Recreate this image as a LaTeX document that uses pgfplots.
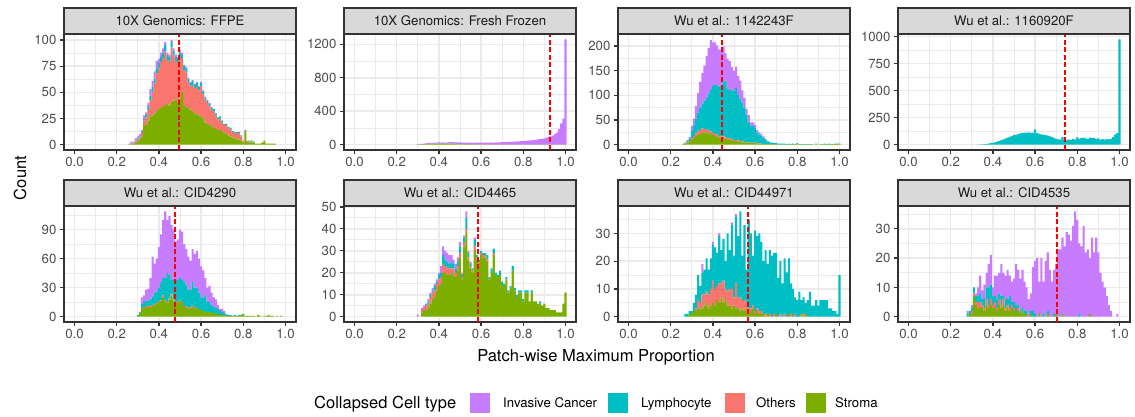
\documentclass[border=0pt]{standalone}
\usepackage{fontspec}
\setmainfont{TeX Gyre Heros}
\usepackage{pgfplots}
\usepackage{pgfplotstable}
\pgfplotsset{compat=1.18}

\definecolor{cancer}{HTML}{C77CFF}
\definecolor{lymph}{HTML}{00BFC4}
\definecolor{others}{HTML}{F8766D}
\definecolor{stroma}{HTML}{7CAE00}
\definecolor{grey10}{HTML}{1A1A1A}
\definecolor{grey20}{HTML}{333333}
\definecolor{grey30}{HTML}{4D4D4D}
\definecolor{grey85}{HTML}{D9D9D9}
\definecolor{grey92}{HTML}{EBEBEB}

\newcommand\tickfont{\fontsize{13.2}{15.8}\selectfont}
\newcommand\titlefont{\fontsize{16.5}{19.8}\selectfont}

% Counts per 0.01-wide bin: x = bin centre, s = Stroma, o = Others,
% l = Lymphocyte, c = Invasive Cancer
\pgfplotstableread{
x s o l c
0.26 0 0 0 1
0.27 1 0 0 2
0.28 1 1 0 1
0.29 2 1 1 2
0.30 3 2 1 2
0.31 5 2 1 2
0.32 8 3 1 2
0.33 18 5 2 3
0.34 19 7 3 2
0.35 23 10 4 3
0.36 27 15 5 6
0.37 28 22 5 6
0.38 30 28 5 7
0.39 32 36 5 7
0.40 34 39 5 4
0.41 35 44 5 4
0.42 36 47 5 4
0.43 38 51 6 3
0.44 39 42 5 2
0.45 37 42 5 2
0.46 41 52 5 2
0.47 42 43 5 2
0.48 43 37 4 2
0.49 40 38 4 2
0.50 44 40 4 2
0.51 51 31 4 2
0.52 37 34 4 1
0.53 36 33 4 1
0.54 35 25 3 1
0.55 33 23 3 1
0.56 32 25 4 1
0.57 30 24 3 1
0.58 29 26 4 1
0.59 28 24 3 1
0.60 27 29 3 1
0.61 25 23 3 1
0.62 21 22 2 1
0.63 20 20 2 1
0.64 19 18 2 1
0.65 18 15 2 1
0.66 16 16 2 0
0.67 15 13 2 0
0.68 14 10 2 0
0.69 14 11 2 0
0.70 13 8 2 0
0.71 11 8 1 0
0.72 10 9 1 0
0.73 9 7 1 0
0.74 8 7 1 0
0.75 7 5 1 0
0.76 6 5 1 0
0.77 5 6 1 0
0.78 5 6 1 0
0.79 4 4 1 0
0.80 2 2 0 0
0.81 12 1 1 0
0.82 3 1 0 0
0.83 2 1 1 0
0.84 2 1 1 0
0.85 2 0 1 0
0.86 1 0 0 0
0.87 1 0 0 0
0.88 1 0 0 0
0.89 2 0 0 0
0.90 4 0 0 0
0.91 1 0 0 0
0.92 1 0 0 0
0.93 1 0 0 0
0.94 1 0 0 0
0.95 1 0 0 0
}\tabFFPE

\pgfplotstableread{
x s o l c
0.30 2 2 0 4
0.31 2 2 1 5
0.32 3 2 1 5
0.33 3 3 1 6
0.34 4 4 1 7
0.35 5 5 1 8
0.36 6 6 2 9
0.37 6 5 2 10
0.38 7 6 2 10
0.39 6 6 2 11
0.40 7 6 2 12
0.41 6 5 2 12
0.42 7 6 2 13
0.43 6 5 2 13
0.44 6 6 2 14
0.45 7 6 2 15
0.46 8 7 2 15
0.47 6 5 2 15
0.48 5 5 2 16
0.49 5 5 1 16
0.50 5 4 1 17
0.51 4 4 1 17
0.52 4 4 1 17
0.53 4 3 1 18
0.54 3 3 1 18
0.55 3 3 1 18
0.56 2 2 1 18
0.57 2 2 1 19
0.58 2 2 1 20
0.59 2 2 0 20
0.60 2 2 0 21
0.61 2 1 0 22
0.62 2 1 0 22
0.63 1 1 0 23
0.64 1 1 0 24
0.65 1 1 0 25
0.66 1 1 0 24
0.67 1 1 0 26
0.68 1 1 0 27
0.69 1 1 0 27
0.70 1 1 0 29
0.71 1 1 0 30
0.72 1 1 0 31
0.73 1 1 0 32
0.74 1 0 0 34
0.75 1 0 0 35
0.76 1 0 0 37
0.77 1 0 0 38
0.78 1 0 0 40
0.79 1 0 0 42
0.80 1 0 0 43
0.81 1 0 0 45
0.82 1 0 0 47
0.83 1 0 0 50
0.84 1 0 0 52
0.85 1 0 0 55
0.86 1 0 0 58
0.87 1 0 0 62
0.88 1 0 0 66
0.89 1 0 0 70
0.90 1 0 0 76
0.91 1 0 0 85
0.92 1 0 0 95
0.93 1 0 0 100
0.94 1 0 0 108
0.95 1 0 0 125
0.96 1 0 0 148
0.97 1 0 0 185
0.98 1 0 0 255
0.99 1 0 0 310
1.00 2 1 0 1257
}\tabFrozen

\pgfplotstableread{
x s o l c
0.26 1 0 1 0
0.27 2 1 1 1
0.28 4 1 3 2
0.29 6 2 5 3
0.30 10 3 15 10
0.31 14 4 20 15
0.32 18 5 30 25
0.33 20 7 38 40
0.34 22 8 45 52
0.35 24 9 50 62
0.36 25 7 58 70
0.37 24 6 65 85
0.38 23 6 75 92
0.39 22 5 85 100
0.40 20 4 96 87
0.41 18 4 100 85
0.42 17 4 98 82
0.43 15 3 100 75
0.44 14 3 102 72
0.45 14 3 110 72
0.46 12 3 115 55
0.47 11 3 100 60
0.48 10 3 98 58
0.49 9 2 98 48
0.50 8 2 100 40
0.51 8 2 105 43
0.52 7 2 92 38
0.53 6 2 85 37
0.54 5 2 78 25
0.55 5 1 68 21
0.56 4 1 55 12
0.57 4 1 40 15
0.58 3 1 35 6
0.59 3 1 34 7
0.60 3 1 30 6
0.61 2 1 22 5
0.62 2 1 18 4
0.63 2 0 16 4
0.64 1 0 13 3
0.65 1 0 9 2
0.66 1 0 6 1
0.67 1 0 4 1
0.68 1 0 3 0
0.69 1 0 2 0
0.70 1 0 2 0
0.71 0 0 2 0
0.72 1 0 1 0
0.73 0 0 2 0
0.74 1 0 1 0
0.75 0 0 1 0
0.76 1 0 1 0
0.77 0 0 1 0
0.78 1 0 1 0
0.79 1 0 0 0
0.80 2 0 1 0
0.81 1 0 0 0
0.82 0 0 1 0
0.83 1 0 0 0
0.84 0 0 1 0
0.85 1 0 0 0
0.86 0 0 1 0
0.87 1 0 0 0
0.88 0 0 0 0
0.89 1 0 1 0
0.90 0 0 0 0
0.91 1 0 0 0
0.92 0 0 1 0
0.93 1 0 1 0
0.94 1 0 0 0
0.95 1 0 1 0
0.96 0 0 1 0
0.97 1 0 0 0
0.98 1 0 1 0
0.99 1 0 1 0
1.00 1 0 1 0
}\tabWuA

\pgfplotstableread{
x s o l c
0.33 0 0 2 0
0.34 0 0 3 0
0.35 0 0 4 0
0.36 0 0 5 0
0.37 0 0 7 0
0.38 0 0 10 0
0.39 0 0 14 0
0.40 0 0 18 0
0.41 0 0 22 0
0.42 0 0 28 0
0.43 0 0 34 0
0.44 0 0 42 0
0.45 0 0 50 0
0.46 0 0 58 0
0.47 0 0 65 0
0.48 0 0 72 0
0.49 0 0 80 0
0.50 0 0 88 0
0.51 0 0 90 0
0.52 0 0 98 0
0.53 0 0 104 0
0.54 0 0 108 0
0.55 0 0 112 0
0.56 0 0 110 0
0.57 0 0 114 0
0.58 0 0 110 0
0.59 0 0 112 0
0.60 0 0 142 0
0.61 0 0 108 0
0.62 0 0 100 0
0.63 0 0 96 0
0.64 0 0 92 0
0.65 0 0 88 0
0.66 0 0 84 0
0.67 0 0 78 0
0.68 0 0 72 0
0.69 0 0 60 0
0.70 0 0 55 0
0.71 0 0 50 0
0.72 0 0 48 0
0.73 0 0 70 0
0.74 0 0 45 0
0.75 0 0 44 0
0.76 0 0 48 0
0.77 0 0 45 0
0.78 0 0 55 0
0.79 0 0 48 0
0.80 0 0 68 0
0.81 0 0 55 0
0.82 0 0 62 0
0.83 0 0 65 0
0.84 0 0 58 0
0.85 0 0 52 0
0.86 0 0 66 0
0.87 0 0 60 0
0.88 0 0 62 0
0.89 0 0 55 0
0.90 0 0 58 0
0.91 0 0 48 0
0.92 0 0 52 0
0.93 0 0 46 0
0.94 0 0 52 0
0.95 0 0 50 0
0.96 0 0 55 0
0.97 0 0 70 0
0.98 0 0 95 0
0.99 0 0 108 0
1.00 0 0 975 0
}\tabWuB

\pgfplotstableread{
x s o l c
0.30 1 0 1 0
0.31 3 0 1 1
0.32 8 1 4 7
0.33 9 1 5 7
0.34 10 1 5 12
0.35 10 1 6 12
0.36 10 1 7 22
0.37 11 1 9 41
0.38 12 1 12 30
0.39 13 1 12 34
0.40 15 1 14 42
0.41 16 1 18 50
0.42 20 2 18 60
0.43 16 1 23 69
0.44 14 1 30 55
0.45 18 1 24 61
0.46 22 2 14 57
0.47 17 1 20 52
0.48 14 1 23 40
0.49 15 1 22 42
0.50 16 1 23 50
0.51 14 1 23 50
0.52 10 1 25 39
0.53 10 1 22 37
0.54 8 1 19 34
0.55 9 1 18 30
0.56 10 1 25 34
0.57 9 1 20 35
0.58 8 1 21 38
0.59 8 0 17 35
0.60 7 0 13 32
0.61 6 0 14 28
0.62 5 0 17 18
0.63 5 0 10 15
0.64 5 0 10 17
0.65 4 0 8 13
0.66 4 0 6 10
0.67 3 0 6 9
0.68 3 0 5 4
0.69 2 0 4 2
0.70 2 0 3 3
0.71 2 0 2 2
0.72 1 0 1 1
0.73 1 0 1 0
0.74 1 0 1 0
0.75 1 0 0 0
0.76 1 0 1 0
0.77 1 0 0 0
0.78 1 0 1 0
0.79 2 0 0 0
0.80 2 0 1 0
0.81 1 0 0 0
0.82 1 0 0 0
0.83 1 0 0 0
0.84 1 0 0 0
0.85 1 0 0 0
0.86 0 0 0 0
0.87 2 0 0 0
0.88 1 0 0 0
0.89 0 0 0 0
0.90 1 0 0 0
0.91 1 0 0 0
0.92 2 0 0 0
0.93 1 0 0 0
0.94 1 0 0 0
0.95 0 0 0 0
0.96 1 0 0 0
0.97 0 0 0 0
0.98 1 0 0 0
}\tabWuC

\pgfplotstableread{
x s o l c
0.30 0 0 0 1
0.31 0 0 0 0
0.32 2 1 0 1
0.33 3 1 0 1
0.34 3 2 1 0
0.35 4 2 1 1
0.36 6 3 1 1
0.37 8 3 1 1
0.38 9 3 2 1
0.39 12 3 1 1
0.40 14 3 2 1
0.41 15 3 2 3
0.42 20 4 4 4
0.43 20 3 3 4
0.44 19 3 3 4
0.45 19 3 2 4
0.46 20 2 3 3
0.47 19 3 2 2
0.48 18 2 2 2
0.49 21 2 2 2
0.50 27 2 3 2
0.51 17 1 1 1
0.52 32 2 2 1
0.53 38 2 5 3
0.54 26 1 2 1
0.55 22 1 1 1
0.56 20 1 1 0
0.57 30 2 3 1
0.58 26 1 1 0
0.59 24 1 1 0
0.60 28 1 1 0
0.61 27 1 1 0
0.62 27 1 1 0
0.63 25 1 2 0
0.64 17 0 1 0
0.65 20 0 2 0
0.66 28 1 2 0
0.67 19 0 1 0
0.68 18 0 1 0
0.69 19 0 2 0
0.70 15 0 1 0
0.71 14 0 1 0
0.72 17 0 1 0
0.73 11 0 1 0
0.74 13 0 1 0
0.75 21 0 2 0
0.76 12 0 1 0
0.77 9 0 1 0
0.78 11 0 1 0
0.79 11 0 1 0
0.80 7 0 1 0
0.81 11 0 1 0
0.82 11 0 1 0
0.83 7 0 0 0
0.84 11 0 1 0
0.85 7 0 0 0
0.86 7 0 0 0
0.87 6 0 0 0
0.88 6 0 1 0
0.89 5 0 0 0
0.90 6 0 0 0
0.91 4 0 0 0
0.92 4 0 0 0
0.93 3 0 0 0
0.94 3 0 0 0
0.95 3 0 0 0
0.96 2 0 0 0
0.97 2 0 0 0
0.98 2 0 0 0
0.99 6 0 0 0
1.00 11 0 0 0
}\tabWuD

\pgfplotstableread{
x s o l c
0.27 0 0 1 0
0.28 0 0 1 0
0.29 1 0 1 0
0.30 1 0 1 0
0.31 2 0 3 0
0.32 2 1 5 0
0.33 3 3 9 0
0.34 3 2 6 0
0.35 3 5 8 3
0.36 4 4 9 0
0.37 5 4 12 0
0.38 3 5 9 0
0.39 4 6 11 0
0.40 5 8 13 1
0.41 4 6 15 0
0.42 6 5 12 0
0.43 5 7 17 1
0.44 7 5 12 0
0.45 5 8 15 0
0.46 6 4 10 0
0.47 4 5 21 0
0.48 4 6 14 0
0.49 3 7 23 1
0.50 4 3 15 0
0.51 3 9 24 1
0.52 3 4 22 0
0.53 2 5 31 0
0.54 3 3 16 0
0.55 2 4 27 0
0.56 3 2 12 0
0.57 1 2 32 0
0.58 2 1 27 0
0.59 3 1 18 0
0.60 1 1 29 0
0.61 2 1 26 0
0.62 1 1 28 0
0.63 1 1 25 0
0.64 1 0 19 0
0.65 0 1 23 0
0.66 1 0 18 0
0.67 0 1 23 0
0.68 0 0 22 0
0.69 0 1 22 0
0.70 1 0 22 0
0.71 0 0 14 0
0.72 0 1 19 0
0.73 0 0 12 0
0.74 0 1 20 0
0.75 0 0 16 0
0.76 1 0 20 0
0.77 0 1 11 0
0.78 0 0 10 0
0.79 0 1 6 0
0.80 0 0 6 0
0.81 0 0 9 0
0.82 1 0 5 0
0.83 0 1 6 0
0.84 1 0 4 0
0.85 0 0 6 0
0.86 0 0 9 0
0.87 0 0 4 0
0.88 0 0 4 0
0.89 0 0 6 0
0.90 0 0 4 0
0.91 0 0 6 0
0.92 0 0 6 0
0.93 0 0 6 0
0.94 0 0 6 0
0.95 0 0 3 0
0.96 0 0 3 0
0.97 0 0 2 0
0.98 0 0 2 0
0.99 0 0 1 0
1.00 0 0 15 0
}\tabWuE

\pgfplotstableread{
x s o l c
0.28 0 0 1 1
0.29 1 0 1 0
0.30 1 1 1 1
0.31 7 1 2 0
0.32 4 1 2 1
0.33 3 2 2 3
0.34 3 2 3 6
0.35 3 1 2 3
0.36 2 1 3 5
0.37 4 2 4 5
0.38 3 1 6 8
0.39 4 2 5 10
0.40 3 1 3 3
0.41 3 2 2 7
0.42 2 1 3 8
0.43 4 2 2 7
0.44 3 1 3 11
0.45 4 2 1 8
0.46 2 1 3 8
0.47 3 1 2 10
0.48 2 1 4 7
0.49 3 1 1 7
0.50 2 1 2 8
0.51 2 0 2 14
0.52 2 1 1 12
0.53 1 0 1 11
0.54 2 0 1 13
0.55 1 0 1 10
0.56 1 0 1 8
0.57 0 0 0 6
0.58 1 0 1 6
0.59 0 0 2 15
0.60 0 0 1 18
0.61 0 0 0 20
0.62 1 0 0 11
0.63 0 0 0 20
0.64 0 0 1 11
0.65 0 0 0 19
0.66 1 0 1 20
0.67 0 0 0 16
0.68 0 0 0 12
0.69 0 0 1 15
0.70 1 0 0 17
0.71 0 0 0 23
0.72 0 0 0 23
0.73 1 0 0 26
0.74 0 0 0 24
0.75 0 0 0 29
0.76 0 0 0 28
0.77 0 0 0 26
0.78 0 0 0 31
0.79 0 0 0 36
0.80 0 0 0 33
0.81 0 0 1 24
0.82 0 0 0 24
0.83 0 0 0 31
0.84 0 0 0 22
0.85 0 0 0 23
0.86 1 0 0 19
0.87 0 0 0 27
0.88 0 0 0 22
0.89 0 0 0 27
0.90 0 0 0 22
0.91 0 0 0 15
0.92 0 0 0 12
0.93 0 0 0 10
0.94 0 0 0 7
0.95 0 0 0 4
0.96 0 0 0 2
0.97 0 0 0 0
0.98 0 0 0 0
0.99 0 0 0 1
}\tabWuF

\pgfplotsset{
  facet/.style={
    scale only axis, width=232pt, height=116pt,
    anchor=south west,
    xmin=-0.05, xmax=1.05,
    ybar stacked, bar width=0.01,
    xtick={0,0.2,0.4,0.6,0.8,1},
    xticklabels={0.0,0.2,0.4,0.6,0.8,1.0},
    minor xtick={0.1,0.3,0.5,0.7,0.9},
    grid=both,
    major grid style={grey92, line width=1.5pt},
    minor grid style={grey92, line width=0.75pt},
    axis line style={grey20, line width=1.3pt},
    tick align=outside, major tick length=4.1pt, minor tick length=0pt,
    tick style={grey20, line width=1.3pt},
    tick pos=left,
    scaled ticks=false,
    tick label style={font=\tickfont, text=grey30},
    yticklabel style={/pgf/number format/fixed, /pgf/number format/1000 sep={},
      /pgf/number format/assume math mode=true},
    clip=true,
  },
}

% Stroma at the bottom, Invasive Cancer on top
\newcommand{\stackbars}[1]{%
  \addplot[fill=stroma, draw=none] table[x=x, y=s] {#1};
  \addplot[fill=others, draw=none] table[x=x, y=o] {#1};
  \addplot[fill=lymph, draw=none] table[x=x, y=l] {#1};
  \addplot[fill=cancer, draw=none] table[x=x, y=c] {#1};
}
% end points of the vertical reference line at x = #1 (named #2)
\newcommand{\refpoints}[2]{%
  \coordinate (#2b) at ({axis cs:#1,0} |- {rel axis cs:0,0});
  \coordinate (#2t) at ({axis cs:#1,0} |- {rel axis cs:0,1});
}
% dashed reference line, drawn over the bars
\newcommand{\refline}[1]{%
  \draw[red, line width=2pt, dash pattern=on 5pt off 2.5pt] (#1b) -- (#1t);
}
% facet strip: left x, bottom y, label
\newcommand{\strip}[3]{%
  \draw[grey20, line width=1.3pt, fill=grey85] (#1pt,#2pt) rectangle ++(232pt,26pt);
  \node[font=\tickfont, text=grey10] at ({#1pt+116pt},{#2pt+13pt}) {#3};
}

\begin{document}
\begin{tikzpicture}
\path[use as bounding box] (0pt,0pt) rectangle (1135pt,417pt);

% ---- top row ----
\begin{axis}[facet, at={(64pt,267pt)},
  ymin=-5.035, ymax=105.735, ytick={0,25,50,75,100}, minor ytick={12.5,37.5,62.5,87.5}]
  \stackbars{\tabFFPE}
  \refpoints{0.495}{va}
\end{axis}
\refline{va}
\strip{64}{383}{10X Genomics: FFPE}

\begin{axis}[facet, at={(344pt,267pt)},
  ymin=-63, ymax=1323, ytick={0,400,800,1200}, minor ytick={200,600,1000}]
  \stackbars{\tabFrozen}
  \refpoints{0.928}{vb}
\end{axis}
\refline{vb}
\strip{344}{383}{10X Genomics: Fresh Frozen}

\begin{axis}[facet, at={(618pt,267pt)},
  ymin=-10.675, ymax=224.175, ytick={0,50,100,150,200}, minor ytick={25,75,125,175}]
  \stackbars{\tabWuA}
  \refpoints{0.441}{vc}
\end{axis}
\refline{vc}
\strip{618}{383}{Wu et al.: 1142243F}

\begin{axis}[facet, at={(898pt,267pt)},
  ymin=-48.75, ymax=1023.75, ytick={0,250,500,750,1000}, minor ytick={125,375,625,875}]
  \stackbars{\tabWuB}
  \refpoints{0.741}{vd}
\end{axis}
\refline{vd}
\strip{898}{383}{Wu et al.: 1160920F}

% ---- bottom row ----
\begin{axis}[facet, at={(64pt,95pt)},
  ymin=-5.45, ymax=114.45, ytick={0,30,60,90}, minor ytick={15,45,75,105}]
  \stackbars{\tabWuC}
  \refpoints{0.477}{ve}
\end{axis}
\refline{ve}
\strip{64}{211}{Wu et al.: CID4290}

\begin{axis}[facet, at={(344pt,95pt)},
  ymin=-2.4, ymax=50.4, ytick={0,10,20,30,40,50}, minor ytick={5,15,25,35,45}]
  \stackbars{\tabWuD}
  \refpoints{0.583}{vf}
\end{axis}
\refline{vf}
\strip{344}{211}{Wu et al.: CID4465}

\begin{axis}[facet, at={(618pt,95pt)},
  ymin=-1.9, ymax=39.9, ytick={0,10,20,30}, minor ytick={5,15,25,35}]
  \stackbars{\tabWuE}
  \refpoints{0.567}{vg}
\end{axis}
\refline{vg}
\strip{618}{211}{Wu et al.: CID44971}

\begin{axis}[facet, at={(898pt,95pt)},
  ymin=-1.8, ymax=37.8, ytick={0,10,20,30}, minor ytick={5,15,25,35}]
  \stackbars{\tabWuF}
  \refpoints{0.706}{vh}
\end{axis}
\refline{vh}
\strip{898}{211}{Wu et al.: CID4535}

% ---- axis titles ----
\node[font=\titlefont, anchor=base] at (596pt,55.3pt) {Patch-wise Maximum Proportion};
\node[font=\titlefont, rotate=90] at (20pt,239pt) {Count};

% ---- legend ----
\node[font=\titlefont, anchor=base west, inner sep=0pt] at (314pt,8.1pt) {Collapsed Cell type};
\fill[cancer] (470pt,4pt) rectangle ++(20pt,20pt);
\node[font=\tickfont, anchor=base west, inner sep=0pt] at (503pt,9.3pt) {Invasive Cancer};
\fill[lymph] (608pt,4pt) rectangle ++(20pt,20pt);
\node[font=\tickfont, anchor=base west, inner sep=0pt] at (641pt,9.3pt) {Lymphocyte};
\fill[others] (725pt,4pt) rectangle ++(20pt,20pt);
\node[font=\tickfont, anchor=base west, inner sep=0pt] at (756pt,9.3pt) {Others};
\fill[stroma] (806pt,4pt) rectangle ++(20pt,20pt);
\node[font=\tickfont, anchor=base west, inner sep=0pt] at (835pt,9.3pt) {Stroma};
\end{tikzpicture}
\end{document}
